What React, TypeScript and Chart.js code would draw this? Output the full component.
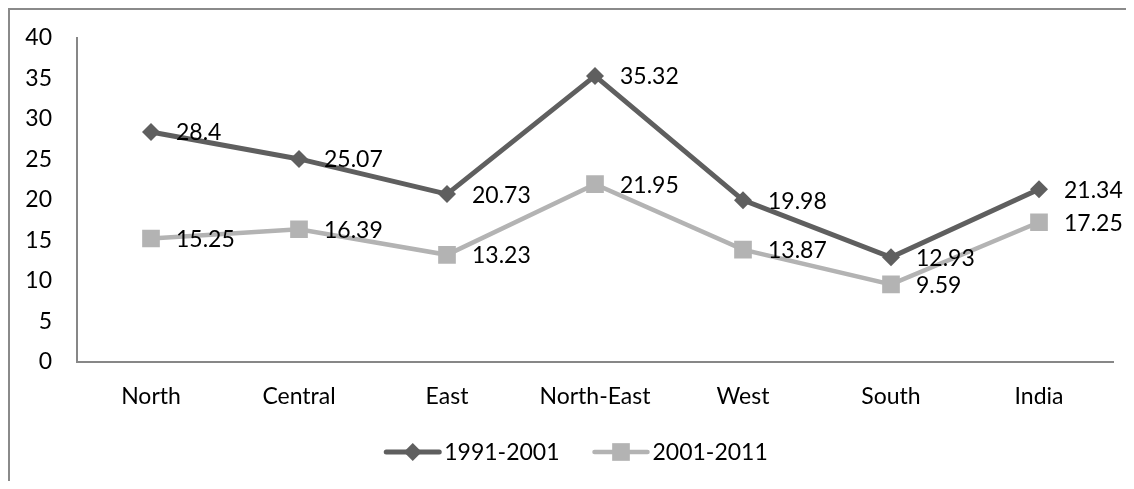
import React, { useEffect, useRef } from "react";
import { Chart, registerables } from "chart.js";

Chart.register(...registerables);

const regions = ["North", "Central", "East", "North-East", "West", "South", "India"];
const growth1991to2001 = [28.4, 25.07, 20.73, 35.32, 19.98, 12.93, 21.34];
const growth2001to2011 = [15.25, 16.39, 13.23, 21.95, 13.87, 9.59, 17.25];
const seriesNames = ["1991-2001", "2001-2011"];

const FONT_FAMILY = 'Lato, "Open Sans", sans-serif';
const FONT_SIZE = 23;
const DARK = "#5f5f5f";
const LIGHT = "#b3b3b3";
const AXIS = "#878787";

// Value labels placed to the right of each point
const valueLabels = {
  id: "valueLabels",
  afterDatasetsDraw(chart: any) {
    const ctx = chart.ctx;
    ctx.save();
    ctx.font = `${FONT_SIZE}px ${FONT_FAMILY}`;
    ctx.fillStyle = "#000";
    ctx.textAlign = "left";
    ctx.textBaseline = "middle";
    chart.data.datasets.forEach((ds: any, i: number) => {
      const meta = chart.getDatasetMeta(i);
      meta.data.forEach((pt: any, j: number) => {
        ctx.fillText(String(ds.data[j]), pt.x + 25, pt.y + 1);
      });
    });
    ctx.restore();
  },
};

// Legend with a short line through each series marker
const lineLegend = {
  id: "lineLegend",
  afterDraw(chart: any) {
    const ctx = chart.ctx;
    ctx.save();
    ctx.font = `${FONT_SIZE}px ${FONT_FAMILY}`;
    const lineLen = 57;
    const textGap = 3;
    const itemGap = 33;
    const items = chart.data.datasets.map((ds: any) => ({
      ds,
      w: lineLen + textGap + ctx.measureText(ds.label).width,
    }));
    const total = items.reduce((s: number, it: any) => s + it.w, 0) + itemGap * (items.length - 1);
    let x = chart.width / 2 + 4 - total / 2;
    const y = 442;
    items.forEach((it: any) => {
      const ds = it.ds;
      ctx.strokeStyle = ds.borderColor;
      ctx.lineWidth = ds.borderWidth;
      ctx.lineCap = "round";
      ctx.beginPath();
      ctx.moveTo(x + 2, y);
      ctx.lineTo(x + lineLen - 2, y);
      ctx.stroke();
      const cx = x + lineLen / 2;
      ctx.fillStyle = ds.pointBackgroundColor;
      ctx.beginPath();
      if (ds.pointStyle === "rectRot") {
        const r = ds.pointRadius;
        ctx.moveTo(cx, y - r);
        ctx.lineTo(cx + r, y);
        ctx.lineTo(cx, y + r);
        ctx.lineTo(cx - r, y);
        ctx.closePath();
      } else {
        const h = ds.pointRadius * Math.SQRT1_2;
        ctx.rect(cx - h, y - h, 2 * h, 2 * h);
      }
      ctx.fill();
      ctx.fillStyle = "#000";
      ctx.textAlign = "left";
      ctx.textBaseline = "middle";
      ctx.fillText(ds.label, x + lineLen + textGap, y + 1);
      x += it.w + itemGap;
    });
    ctx.restore();
  },
};

export default function App() {
  const canvasRef = useRef<HTMLCanvasElement | null>(null);

  useEffect(() => {
    if (!canvasRef.current) return;
    const chart = new Chart(canvasRef.current, {
      type: "line",
      data: {
        labels: regions,
        datasets: [
          {
            label: seriesNames[0],
            data: growth1991to2001,
            borderColor: DARK,
            backgroundColor: DARK,
            pointBackgroundColor: DARK,
            pointBorderColor: DARK,
            pointBorderWidth: 0,
            borderWidth: 5,
            pointStyle: "rectRot",
            pointRadius: 9,
            tension: 0,
          },
          {
            label: seriesNames[1],
            data: growth2001to2011,
            borderColor: LIGHT,
            backgroundColor: LIGHT,
            pointBackgroundColor: LIGHT,
            pointBorderColor: LIGHT,
            pointBorderWidth: 0,
            borderWidth: 4.5,
            pointStyle: "rect",
            pointRadius: 12.5,
            tension: 0,
          },
        ],
      },
      options: {
        responsive: false,
        animation: false,
        layout: { padding: { top: 28, right: 21, left: 0, bottom: 0 } },
        plugins: {
          legend: { display: false },
          tooltip: { enabled: false },
        },
        scales: {
          x: {
            offset: true,
            grid: { display: false, drawTicks: false },
            border: { display: true, color: AXIS, width: 2 },
            ticks: {
              color: "#000",
              padding: 21,
              font: { family: FONT_FAMILY, size: FONT_SIZE },
              maxRotation: 0,
            },
            afterFit(scale: any) {
              scale.height = 119;
              scale.paddingLeft = 0;
              scale.paddingRight = 0;
            },
          },
          y: {
            min: 0,
            max: 40,
            grid: { display: false, drawTicks: false },
            border: { display: true, color: AXIS, width: 2 },
            ticks: {
              stepSize: 5,
              color: "#000",
              padding: 25,
              font: { family: FONT_FAMILY, size: FONT_SIZE },
            },
            afterFit(scale: any) {
              scale.width = 67;
              scale.paddingTop = 0;
              scale.paddingBottom = 0;
            },
          },
        },
      },
      plugins: [valueLabels, lineLegend],
    });
    return () => chart.destroy();
  }, []);

  return (
    <div
      style={{
        width: 1126,
        height: 473,
        boxSizing: "border-box",
        borderTop: "2px solid #8a8a8a",
        borderLeft: "2px solid #8a8a8a",
        background: "#fff",
      }}
    >
      <canvas ref={canvasRef} width={1124} height={471} style={{ display: "block", width: 1124, height: 471 }} />
    </div>
  );
}
